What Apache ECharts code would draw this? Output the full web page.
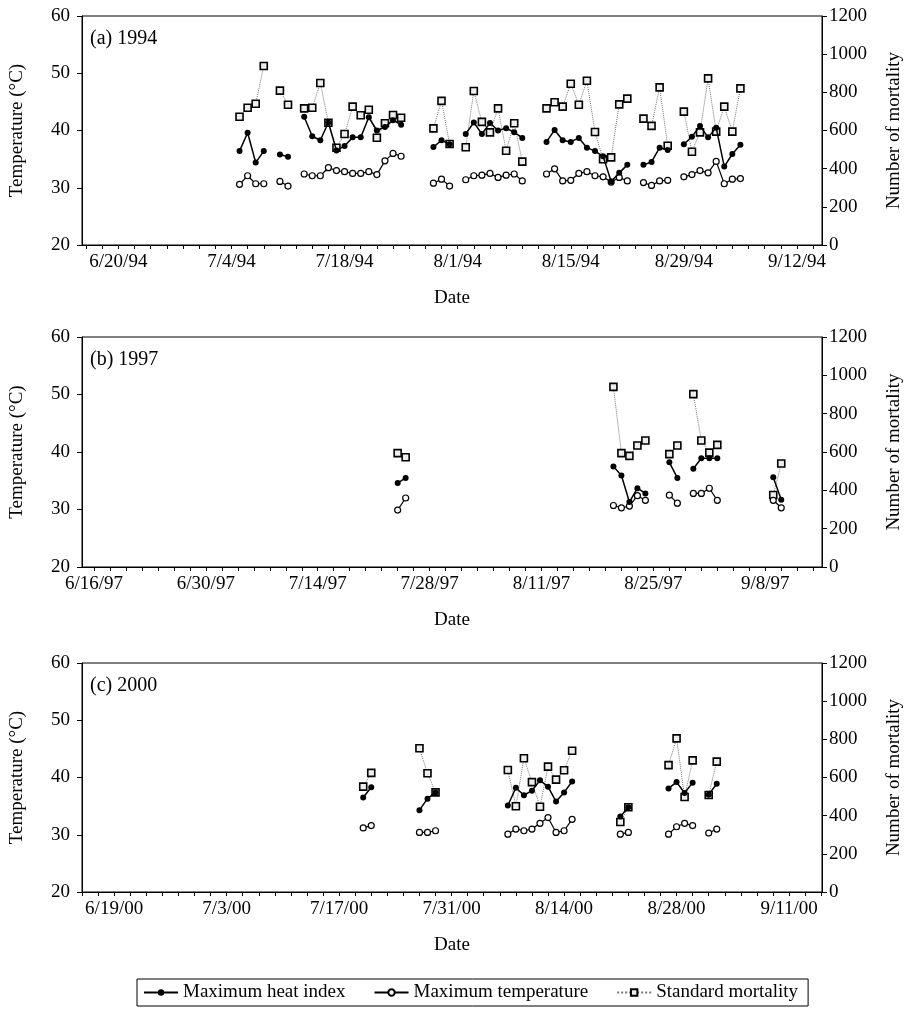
<!DOCTYPE html>
<html>
<head>
<meta charset="utf-8">
<title>Heat index, temperature and mortality</title>
<script src="https://cdn.jsdelivr.net/npm/echarts@6/dist/echarts.min.js"></script>
<style>
  html, body { margin: 0; padding: 0; background: #fff; }
  #chart { width: 912px; height: 1014px; }
</style>
</head>
<body>
<div id="chart"></div>
<script>
// (a) 1994
const datesA = ['7/5', '7/6', '7/7', '7/8', '7/10', '7/11',
    '7/13', '7/14', '7/15', '7/16', '7/17', '7/18', '7/19', '7/20', '7/21', '7/22', '7/23', '7/24', '7/25',
    '7/29', '7/30', '7/31',
    '8/2', '8/3', '8/4', '8/5', '8/6', '8/7', '8/8', '8/9',
    '8/12', '8/13', '8/14', '8/15', '8/16', '8/17', '8/18', '8/19', '8/20', '8/21', '8/22',
    '8/24', '8/25', '8/26', '8/27',
    '8/29', '8/30', '8/31', '9/1', '9/2', '9/3', '9/4', '9/5'];
const heatA = [36.4, 39.6, 34.4, 36.4, 35.8, 35.4,
    42.4, 39.0, 38.3, 41.4, 36.5, 37.3, 38.8, 38.8, 42.3, 40.0, 40.6, 41.8, 41.0,
    37.1, 38.3, 37.6,
    39.4, 41.4, 39.4, 41.3, 40.0, 40.4, 39.7, 38.7,
    38.0, 40.1, 38.3, 38.0, 38.7, 37.0, 36.4, 35.5, 31.1, 32.6, 34.0,
    34.0, 34.5, 37.0, 36.6,
    37.6, 38.9, 40.8, 38.8, 40.5, 33.7, 35.9, 37.5];
const tempA = [30.6, 32.1, 30.7, 30.7, 31.1, 30.3,
    32.4, 32.1, 32.1, 33.5, 33.0, 32.8, 32.5, 32.5, 32.8, 32.3, 34.7, 36.0, 35.5,
    30.8, 31.5, 30.3,
    31.4, 32.1, 32.2, 32.5, 31.8, 32.2, 32.4, 31.2,
    32.4, 33.3, 31.2, 31.3, 32.5, 32.8, 32.1, 31.9, 31.0, 31.8, 31.2,
    30.9, 30.4, 31.2, 31.3,
    31.9, 32.3, 33.0, 32.6, 34.6, 30.7, 31.5, 31.6];
const mortA = [672, 719, 740, 938, 809, 735,
    716, 719, 849, 641, 510, 582, 725, 680, 709, 562, 638, 681, 667,
    611, 755, 529,
    512, 807, 645, 590, 716, 494, 638, 437,
    716, 748, 725, 845, 735, 861, 592, 449, 459, 737, 767,
    662, 624, 826, 520,
    699, 489, 590, 873, 594, 725, 594, 821];
const ticksA = ['6/20/94', '7/4/94', '7/18/94', '8/1/94', '8/15/94', '8/29/94', '9/12/94'];

// (b) 1997
const datesB = ['7/24', '7/25', '8/20', '8/21', '8/22', '8/23', '8/24', '8/27', '8/28',
    '8/30', '8/31', '9/1', '9/2', '9/9', '9/10'];
const heatB = [34.6, 35.5, 37.5, 35.9, 31.3, 33.7, 32.8, 38.2, 35.5, 37.1, 38.9, 38.9, 38.9, 35.6, 31.7];
const tempB = [29.9, 32.0, 30.7, 30.3, 30.6, 32.4, 31.6, 32.5, 31.1, 32.8, 32.8, 33.7, 31.6, 31.6, 30.3];
const mortB = [594, 573, 940, 594, 580, 634, 660, 589, 634, 902, 660, 597, 637, 376, 540];
const ticksB = ['6/16/97', '6/30/97', '7/14/97', '7/28/97', '8/11/97', '8/25/97', '9/8/97'];

// (c) 2000
const datesC = ['7/20', '7/21', '7/27', '7/28', '7/29',
    '8/7', '8/8', '8/9', '8/10', '8/11', '8/12', '8/13', '8/14', '8/15',
    '8/21', '8/22', '8/27', '8/28', '8/29', '8/30', '9/1', '9/2'];
const heatC = [36.5, 38.3, 34.3, 36.3, 37.4, 35.1, 38.2, 36.9, 37.7, 39.5, 38.4, 35.8, 37.4, 39.3,
    33.2, 34.8, 38.1, 39.2, 37.3, 39.1, 37.0, 38.9];
const tempC = [31.2, 31.6, 30.4, 30.4, 30.7, 30.1, 31.0, 30.7, 31.0, 32.0, 33.0, 30.4, 30.7, 32.7,
    30.1, 30.4, 30.1, 31.4, 32.0, 31.6, 30.3, 31.0];
const mortC = [552, 624, 753, 622, 522, 639, 449, 701, 576, 447, 657, 589, 638, 740,
    367, 444, 665, 805, 498, 690, 508, 683];
const ticksC = ['6/19/00', '7/3/00', '7/17/00', '7/31/00', '8/14/00', '8/28/00', '9/11/00'];

const seriesNames = ['Maximum heat index', 'Maximum temperature', 'Standard mortality'];

// day number counted from the end of May, so the axes stay plain numbers
const monthStart = { 6: 0, 7: 30, 8: 61, 9: 92 };
function dayNum(s) {
    const p = s.split('/');
    return monthStart[+p[0]] + (+p[1]);
}

// a missing day breaks the line
function buildData(dates, values) {
    const out = [];
    dates.forEach((d, i) => {
        const x = dayNum(d);
        if (i > 0 && x - dayNum(dates[i - 1]) > 1) out.push([x - 0.5, null]);
        out.push([x, values[i]]);
    });
    return out;
}

const panels = [
    { title: '(a) 1994', dates: datesA, heat: heatA, temp: tempA, mort: mortA, ticks: ticksA, min: 15.5, top: 16, height: 229 },
    { title: '(b) 1997', dates: datesB, heat: heatB, temp: tempB, mort: mortB, ticks: ticksB, min: 14.5, top: 337, height: 230 },
    { title: '(c) 2000', dates: datesC, heat: heatC, temp: tempC, mort: mortC, ticks: ticksC, min: 15, top: 663, height: 229 }
];
const xMax = 107.1;

const font = { fontFamily: 'Liberation Serif', fontSize: 19, color: '#000' };
const black = { color: '#000', width: 1 };

const grids = [], xAxes = [], yAxes = [], series = [], titles = [];

panels.forEach((p, i) => {
    grids.push({
        left: 82, width: 740, top: p.top, height: p.height,
        show: true, borderColor: '#000', borderWidth: 1
    });

    titles.push({
        text: p.title, left: 90, top: p.top + 13, padding: 0,
        textStyle: { ...font, fontSize: 20, fontWeight: 'normal' }
    });

    const labelVals = p.ticks.map(dayNum);
    const tickVals = [];
    for (let v = labelVals[0] - 14; v <= xMax; v += 2) {
        if (v >= p.min) tickVals.push(v);
    }

    xAxes.push({
        type: 'value', gridIndex: i, min: p.min, max: xMax,
        name: 'Date', nameLocation: 'middle', nameGap: 44, nameTextStyle: font,
        axisLine: { show: true, lineStyle: black },
        axisTick: { show: true, customValues: tickVals, length: 4, lineStyle: black },
        axisLabel: {
            ...font, margin: 8, customValues: labelVals,
            formatter: v => p.ticks[labelVals.indexOf(v)] || ''
        },
        splitLine: { show: false }
    });

    yAxes.push({
        type: 'value', gridIndex: i, position: 'left', min: 20, max: 60, interval: 10,
        name: 'Temperature (°C)', nameLocation: 'middle', nameGap: 55, nameRotate: 90,
        nameTextStyle: font,
        axisLine: { show: true, lineStyle: black },
        axisTick: { show: true, length: 5, lineStyle: black },
        axisLabel: { ...font, margin: 12, formatter: v => String(v) },
        splitLine: { show: false }
    });
    yAxes.push({
        type: 'value', gridIndex: i, position: 'right', min: 0, max: 1200, interval: 200,
        name: 'Number of mortality', nameLocation: 'middle', nameGap: 63, nameRotate: 90,
        nameTextStyle: font,
        axisLine: { show: true, lineStyle: black },
        axisTick: { show: true, length: 5, lineStyle: black },
        axisLabel: { ...font, margin: 7, formatter: v => String(v) },
        splitLine: { show: false }
    });

    series.push({
        name: seriesNames[0], type: 'line', xAxisIndex: i, yAxisIndex: 2 * i,
        data: buildData(p.dates, p.heat),
        symbol: 'circle', symbolSize: 6, z: 4,
        itemStyle: { color: '#000' },
        lineStyle: { color: '#000', width: 1.5 }
    });
    series.push({
        name: seriesNames[1], type: 'line', xAxisIndex: i, yAxisIndex: 2 * i,
        data: buildData(p.dates, p.temp),
        symbol: 'circle', symbolSize: 6, z: 3,
        itemStyle: { color: '#fff', borderColor: '#000', borderWidth: 1.2 },
        lineStyle: { color: '#000', width: 1.2 }
    });
    series.push({
        name: seriesNames[2], type: 'line', xAxisIndex: i, yAxisIndex: 2 * i + 1,
        data: buildData(p.dates, p.mort),
        symbol: 'rect', symbolSize: 7, z: 2,
        itemStyle: { color: '#eee', borderColor: '#000', borderWidth: 1.6 },
        lineStyle: { color: '#777', width: 1, type: 'dotted' }
    });
});

const chart = echarts.init(document.getElementById('chart'), null, { renderer: 'canvas' });
chart.setOption({
    animation: false,
    backgroundColor: '#fff',
    title: titles,
    legend: {
        data: seriesNames,
        left: 137, top: 979,
        padding: [4, 10, 4, 6],
        borderColor: '#000', borderWidth: 1,
        itemWidth: 34, itemHeight: 8, itemGap: 28,
        textStyle: font
    },
    grid: grids,
    xAxis: xAxes,
    yAxis: yAxes,
    series: series
});
</script>
</body>
</html>
